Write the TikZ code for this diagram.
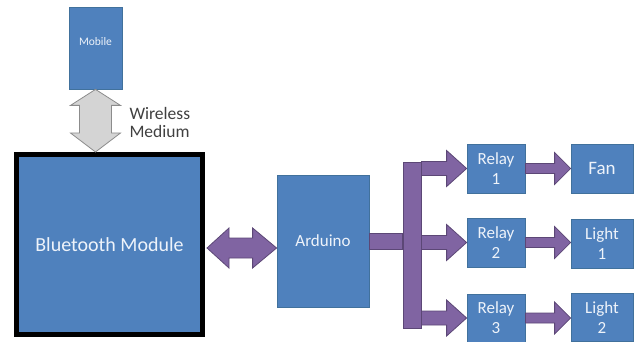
\documentclass[tikz,border=0pt]{standalone}
\usepackage{fontspec}
\setmainfont{Carlito}
\usetikzlibrary{calc}
\definecolor{boxblue}{HTML}{4F81BD}
\definecolor{boxedge}{HTML}{41719C}
\definecolor{arrpurple}{HTML}{8064A2}
\definecolor{arredge}{HTML}{5C4776}
\definecolor{labelgray}{HTML}{404040}
\definecolor{boxtext}{HTML}{EEF3FA}

% wide arrow: [style]{from}{to}{half shaft}{half head}{head length}
\newcommand{\widearrow}[6][]{%
  \draw[#1] let \p1=(#2), \p2=(#3) in
    (\x1,\y1+#4) -- (\x2-#6,\y1+#4) -- (\x2-#6,\y1+#5) -- (\x2,\y1)
    -- (\x2-#6,\y1-#5) -- (\x2-#6,\y1-#4) -- (\x1,\y1-#4) -- cycle;}

\begin{document}
\begin{tikzpicture}[x=1pt, y=-1pt,
    every node/.style={font=\fontsize{17}{20}\selectfont, text=boxtext, align=center},
    block/.style={draw=boxedge, fill=boxblue, line width=0.8pt, inner sep=0pt},
    fat/.style={draw=arredge, fill=arrpurple, line width=0.8pt},
    airlink/.style={draw=black!45, fill=black!17, line width=0.8pt}]
    \useasboundingbox (0,0) rectangle (637,342);

    \node[block, minimum width=53pt, minimum height=82pt,
          font=\fontsize{11.5}{13}\selectfont] (mobile) at (95.5,48) {\raisebox{12pt}{Mobile}};
    \node[block, draw=black, line width=5pt, minimum width=186pt, minimum height=180pt,
          font=\fontsize{20}{24}\selectfont] (bt) at (109.5,244.5) {Bluetooth Module};
    \node[block, minimum width=92pt, minimum height=132pt] (arduino) at (323,241) {Arduino};

    \node[block, minimum width=58pt, minimum height=49pt] (relay1) at (496,168.5) {Relay\\1};
    \node[block, minimum width=58pt, minimum height=49pt] (relay2) at (496,242.5) {Relay\\2};
    \node[block, minimum width=58pt, minimum height=48pt] (relay3) at (496,318) {Relay\\3};

    \node[block, minimum width=62pt, minimum height=49pt,
          font=\fontsize{19}{22}\selectfont] (fan) at (602,168.5) {Fan};
    \node[block, minimum width=62pt, minimum height=49pt] (light1) at (602,243.5) {Light\\1};
    \node[block, minimum width=62pt, minimum height=48pt] (light2) at (602,317.5) {Light\\2};

    % mobile <-> bluetooth
    \draw[airlink] let \p1=(mobile.south), \p2=(bt.north) in
        (\x1,\y1) -- (\x1+25pt,\y1-16pt) -- (\x1+16pt,\y1-16pt) -- (\x1+16pt,\y2+19pt)
        -- (\x1+25pt,\y2+19pt) -- (\x1,\y2) -- (\x1-25pt,\y2+19pt) -- (\x1-16pt,\y2+19pt)
        -- (\x1-16pt,\y1-16pt) -- (\x1-25pt,\y1-16pt) -- cycle;
    \node[text=labelgray, align=left, font=\fontsize{17.5}{18}\selectfont, anchor=west]
        (medium) at (126,122) {Wireless\\Medium};

    % bluetooth <-> arduino
    \draw[fat] let \p1=(bt.east), \p2=(arduino.west) in
        (\x1+2pt,\y1-3.5pt) -- (\x1+24pt,\y1+16.5pt) -- (\x1+24pt,\y1+6.5pt) -- (\x2-24pt,\y1+6.5pt)
        -- (\x2-24pt,\y1+16.5pt) -- (\x2,\y1-3.5pt) -- (\x2-24pt,\y1-23.5pt) -- (\x2-24pt,\y1-13.5pt)
        -- (\x1+24pt,\y1-13.5pt) -- (\x1+24pt,\y1-23.5pt) -- cycle;

    % arduino -> bus -> relays
    \node[fat, minimum width=18pt, minimum height=166pt, inner sep=0pt] (bus) at (412,245) {};
    \draw[fat] let \p1=(arduino.east), \p2=(bus.west) in
        (\x1,\y1+8pt) rectangle (\x2,\y1-8pt);
    \widearrow[fat]{bus.east |- relay1.west}{relay1.west}{7pt}{18pt}{20pt}
    \widearrow[fat]{bus.east |- relay2.west}{relay2.west}{7pt}{18pt}{20pt}
    \widearrow[fat]{bus.east |- relay3.west}{relay3.west}{7pt}{18pt}{20pt}

    % relays -> loads
    \widearrow[fat]{relay1.east}{fan.west}{5pt}{16pt}{16pt}
    \widearrow[fat]{relay2.east}{light1.west}{5pt}{16pt}{16pt}
    \widearrow[fat]{relay3.east}{light2.west}{5pt}{16pt}{16pt}
\end{tikzpicture}
\end{document}
